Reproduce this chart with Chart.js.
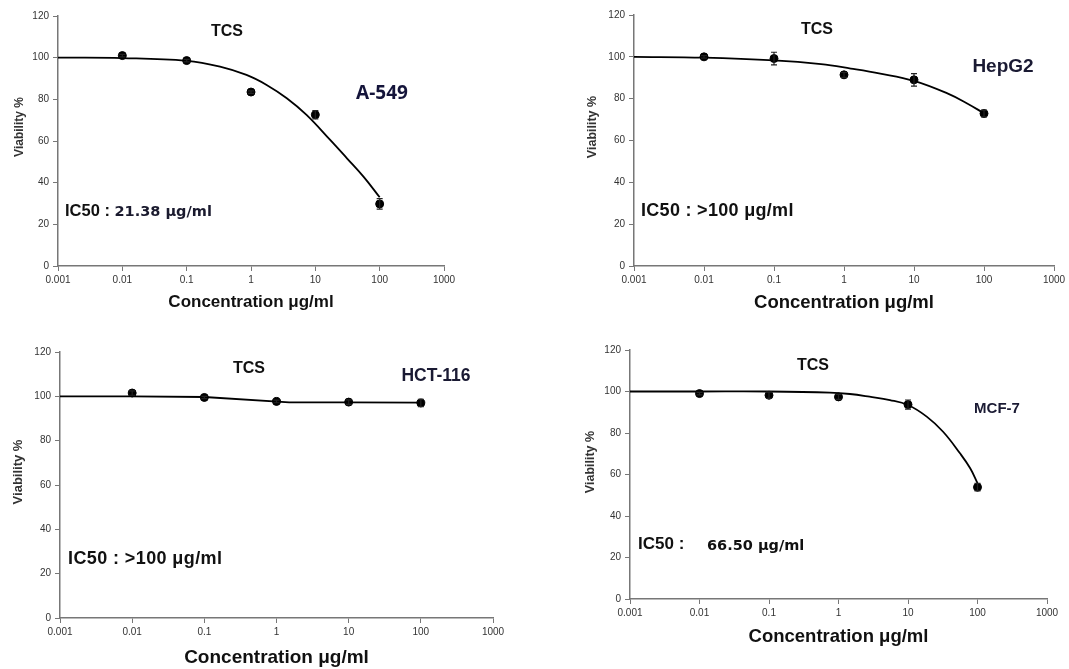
<!DOCTYPE html>
<html>
<head>
<meta charset="utf-8">
<script src="https://cdn.jsdelivr.net/npm/chart.js@4.4.0/dist/chart.umd.min.js"></script>
<style>
body { margin: 0; width: 1069px; height: 669px; overflow: hidden; background: #fff; position: relative;
       font-family: Arial, "Liberation Sans", sans-serif; }
canvas { position: absolute; }
.c { position: absolute; font-weight: bold; white-space: nowrap; transform: translate(-50%, -50%); color: #111; }
.l { position: absolute; font-weight: bold; white-space: nowrap; transform: translate(0, -50%); color: #111; }
.v { position: absolute; font-weight: bold; white-space: nowrap; transform: translate(-50%, -50%) rotate(-90deg); color: #333; }
.n { font-family: "DejaVu Sans", sans-serif; }
</style>
</head>
<body>
<canvas id="chart_a549" width="453" height="317" style="left:7px;top:0px"></canvas>
<canvas id="chart_hepg2" width="489" height="318" style="left:580px;top:0px"></canvas>
<canvas id="chart_hct116" width="503" height="333" style="left:5px;top:340px"></canvas>
<canvas id="chart_mcf7" width="484" height="312" style="left:578px;top:340px"></canvas>

<!-- textos dos paineis -->
<div class="c" style="left:227px;top:31px;font-size:16px">TCS</div>
<div class="c" style="left:382px;top:92px;font-size:19px;font-family:'Open Sans';color:#14143a">A-549</div>
<div class="l" style="left:65px;top:210px;font-size:16.5px">IC50 : <span class="n" style="font-size:14.5px;color:#1a1a2e">21.38 μg/ml</span></div>
<div class="v" style="left:19px;top:127px;font-size:12px">Viability %</div>

<div class="c" style="left:817px;top:29px;font-size:16px">TCS</div>
<div class="c" style="left:1003px;top:66px;font-size:19px;color:#1a1a33">HepG2</div>
<div class="l" style="left:641px;top:210px;font-size:18px;letter-spacing:0.3px">IC50 : &gt;100 μg/ml</div>
<div class="v" style="left:592px;top:127px;font-size:12.5px">Viability %</div>

<div class="c" style="left:249px;top:368px;font-size:16px">TCS</div>
<div class="c" style="left:436px;top:375px;font-size:17.5px;color:#1a1a33">HCT-116</div>
<div class="l" style="left:68px;top:558px;font-size:18px;letter-spacing:0.4px">IC50 : &gt;100 μg/ml</div>
<div class="v" style="left:17px;top:472px;font-size:13px">Viability %</div>

<div class="c" style="left:813px;top:365px;font-size:16px">TCS</div>
<div class="c" style="left:997px;top:407px;font-size:15px;color:#1a1a33">MCF-7</div>
<div class="l" style="left:638px;top:544px;font-size:17px">IC50 :</div>
<div class="l n" style="left:707px;top:545px;font-size:14.5px">66.50 μg/ml</div>
<div class="v" style="left:590px;top:462px;font-size:12.5px">Viability %</div>

<script>
// dados
const concentracoes = [0.01, 0.1, 1, 10, 100];
const xTicks = [0.001, 0.01, 0.1, 1, 10, 100, 1000];
const yTicks = [0, 20, 40, 60, 80, 100, 120];

const a549Viabilidade = [101, 98.6, 83.5, 72.6, 29.8];
const a549Erro = [0.6, 0.6, 0.6, 2, 2.5];
const a549CurvaX = [0.001, 0.01, 0.1, 0.33, 0.85, 1.75, 3.6, 7.3, 17, 31, 56, 100];
const a549CurvaY = [100, 99.8, 98.5, 95.7, 91.7, 86.9, 80.5, 72.5, 60.5, 51.7, 42.9, 33];

const hepg2Viabilidade = [100, 99.2, 91.4, 89, 72.9];
const hepg2Erro = [0.6, 3, 1.2, 3, 1.6];
const hepg2CurvaX = [0.001, 0.01, 0.1, 0.47, 1.25, 3.3, 10, 30, 57.5, 100];
const hepg2CurvaY = [100, 99.6, 98.3, 96.5, 94.4, 92, 88.5, 82.5, 77.7, 73];

const hct116Viabilidade = [101.5, 99.5, 97.7, 97.4, 97];
const hct116Erro = [1, 0.5, 0.6, 1, 1.6];
const hct116CurvaX = [0.001, 0.01, 0.1, 1.5, 10, 100];
const hct116CurvaY = [100, 100, 99.7, 97.3, 97.3, 97.2];

const mcf7Viabilidade = [99, 98.2, 97.4, 93.7, 53.9];
const mcf7Erro = [0.6, 1.5, 1.2, 2.2, 1.8];
const mcf7CurvaX = [0.001, 0.01, 0.1, 0.75, 1.46, 2.8, 5.5, 10, 18.6, 32, 56, 78.5, 100];
const mcf7CurvaY = [100, 100, 100, 99.5, 98.8, 97.5, 95.9, 93.5, 87.9, 80.6, 70.2, 63, 55.8];

Chart.defaults.font.family = 'Arial, "Liberation Sans", sans-serif';

// barras de erro desenhadas pelas escalas do grafico
const errorBarsPlugin = {
    id: 'errorBars',
    afterDatasetsDraw(chart, args, opts) {
        const ctx = chart.ctx;
        const xs = chart.scales.x, ys = chart.scales.y;
        ctx.save();
        ctx.strokeStyle = '#222';
        ctx.lineWidth = 1.2;
        concentracoes.forEach((c, i) => {
            const px = xs.getPixelForValue(c);
            const top = ys.getPixelForValue(opts.values[i] + opts.errors[i]);
            const bot = ys.getPixelForValue(opts.values[i] - opts.errors[i]);
            ctx.beginPath();
            ctx.moveTo(px, top); ctx.lineTo(px, bot);
            ctx.moveTo(px - 3, top); ctx.lineTo(px + 3, top);
            ctx.moveTo(px - 3, bot); ctx.lineTo(px + 3, bot);
            ctx.stroke();
        });
        ctx.restore();
    }
};

function gerarGrafico(id, viabilidade, erro, curvaX, curvaY, p) {
    const ctx = document.getElementById(id).getContext('2d');
    new Chart(ctx, {
        type: 'scatter',
        data: {
            datasets: [{
                data: concentracoes.map((c, i) => ({ x: c, y: viabilidade[i] })),
                backgroundColor: '#000',
                borderColor: '#000',
                pointRadius: 4,
                pointHoverRadius: 4
            }, {
                data: curvaX.map((c, i) => ({ x: c, y: curvaY[i] })),
                showLine: true,
                borderColor: '#000',
                borderWidth: 1.8,
                pointRadius: 0,
                tension: p.tension
            }]
        },
        options: {
            responsive: false,
            animation: false,
            layout: { padding: { top: p.padTop, right: p.padRight, left: 0, bottom: 0 } },
            plugins: {
                legend: { display: false },
                tooltip: { enabled: false },
                errorBars: { values: viabilidade, errors: erro }
            },
            scales: {
                x: {
                    type: 'logarithmic',
                    min: 0.001,
                    max: 1000,
                    afterBuildTicks: s => { s.ticks = xTicks.map(v => ({ value: v })); },
                    afterFit: s => { s.height = p.xh; },
                    ticks: {
                        callback: v => String(v),
                        color: '#333',
                        font: { size: 10 },
                        padding: 3,
                        maxRotation: 0,
                        autoSkip: false
                    },
                    grid: { drawOnChartArea: false, tickLength: 5, color: '#777' },
                    border: { color: '#777', width: 1.5 },
                    title: {
                        display: true,
                        text: 'Concentration μg/ml',
                        color: '#111',
                        font: { size: p.xTitle, weight: 'bold' },
                        padding: { top: 4, bottom: 4 }
                    }
                },
                y: {
                    min: 0,
                    max: 120,
                    afterBuildTicks: s => { s.ticks = yTicks.map(v => ({ value: v })); },
                    afterFit: s => { s.width = p.yw; },
                    ticks: { color: '#333', font: { size: 10 }, padding: 4 },
                    grid: { drawOnChartArea: false, tickLength: 5, color: '#777' },
                    border: { color: '#777', width: 1.5 }
                }
            }
        },
        plugins: [errorBarsPlugin]
    });
}

gerarGrafico('chart_a549', a549Viabilidade, a549Erro, a549CurvaX, a549CurvaY,
    { yw: 51, xh: 51, padTop: 16, padRight: 16, xTitle: 17, tension: 0.4 });
gerarGrafico('chart_hepg2', hepg2Viabilidade, hepg2Erro, hepg2CurvaX, hepg2CurvaY,
    { yw: 54, xh: 52, padTop: 15, padRight: 15, xTitle: 18.5, tension: 0.4 });
gerarGrafico('chart_hct116', hct116Viabilidade, hct116Erro, hct116CurvaX, hct116CurvaY,
    { yw: 55, xh: 55, padTop: 12, padRight: 15, xTitle: 19, tension: 0 });
gerarGrafico('chart_mcf7', mcf7Viabilidade, mcf7Erro, mcf7CurvaX, mcf7CurvaY,
    { yw: 52, xh: 53, padTop: 10, padRight: 15, xTitle: 18.5, tension: 0.4 });
</script>
</body>
</html>
